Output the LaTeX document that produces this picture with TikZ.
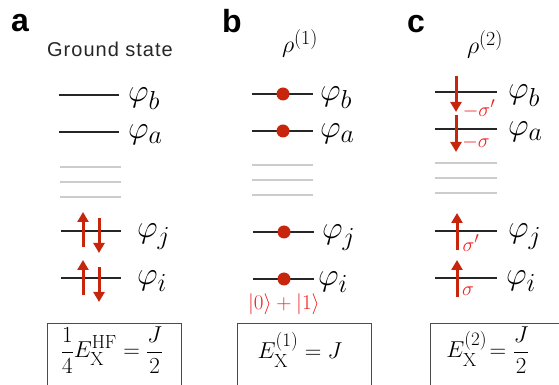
\RequirePackage{fix-cm}
\documentclass[tikz,border=0pt]{standalone}
\usepackage{amsmath}
\usepackage{fontspec}
\newfontfamily\helv{Liberation Sans}
\newfontfamily\helvw[LetterSpace=5]{Liberation Sans}
\usetikzlibrary{arrows.meta, positioning}
\definecolor{spinred}{RGB}{200,38,12}
\definecolor{lblred}{RGB}{238,32,32}
\DeclareMathSizes{32}{32}{26}{20}
\DeclareMathSizes{24}{24}{20}{16}
\DeclareMathSizes{23}{23}{19}{15}
\DeclareMathSizes{21}{21}{17}{13}
\DeclareMathSizes{20}{20}{16}{12}

\begin{document}
\begin{tikzpicture}[
    x=1pt, y=1pt,
    level/.style  = {line width=2pt, black!85},
    gap/.style    = {line width=2pt, black!20},
    spin/.style   = {line width=3pt, spinred,
                     -{Triangle[length=10pt, width=11pt]}},
    dot/.style    = {circle, fill=spinred, inner sep=0pt, minimum size=13pt},
    orb/.style    = {anchor=base west, inner sep=0pt,
                     font=\fontsize{32}{34}\selectfont},
    plabel/.style = {anchor=base, inner sep=0pt,
                     font=\helv\bfseries\fontsize{32}{34}\selectfont},
    title/.style  = {anchor=base, inner sep=0pt, text=black!85,
                     font=\helvw\fontsize{20}{22}\selectfont},
    dens/.style   = {anchor=base, inner sep=0pt,
                     font=\fontsize{24}{26}\selectfont},
    tag/.style    = {inner sep=0pt, text=lblred,
                     font=\fontsize{20}{22}\selectfont},
    eq/.style     = {inner sep=0pt, font=\fontsize{23}{25}\selectfont},
    ebox/.style   = {draw=black!70, line width=0.9pt},
]
\useasboundingbox (0,0) rectangle (559,385);

% panel a: ground state
\node[plabel] (la) at (20,353) {a};
\node[title]  (gs) at (110,328) {Ground state};

\coordinate (ab) at (89,290);
\coordinate (aa) at (89,253);
\coordinate (aj) at (91,154);
\coordinate (ai) at (91,107);
\draw[level] ([xshift=-30]ab) -- ([xshift=30]ab);
\draw[level] ([xshift=-30]aa) -- ([xshift=30]aa);
\foreach \y in {218,203,188}
  \draw[gap] (60,\y) -- (121,\y);
\draw[level] ([xshift=-30]aj) -- ([xshift=30]aj);
\draw[level] ([xshift=-30]ai) -- ([xshift=30]ai);

\draw[spin] ([shift={(-8,-16)}]aj) -- ([shift={(-8,19)}]aj);
\draw[spin] ([shift={(8,13)}]aj)   -- ([shift={(8,-22)}]aj);
\draw[spin] ([shift={(-8,-17)}]ai) -- ([shift={(-8,18)}]ai);
\draw[spin] ([shift={(8,11)}]ai)   -- ([shift={(8,-24)}]ai);

\node[orb] (abl) at (128,283) {$\varphi_b$};
\node[orb] (aal) at (128,246) {$\varphi_a$};
\node[orb] (ajl) at (137,147) {$\varphi_j$};
\node[orb] (ail) at (137,100) {$\varphi_i$};

\node[eq] (eqa) at (112,35)
  {$\displaystyle \frac{1}{4}E_{\mathrm{X}}^{\mathrm{HF}} = \frac{J}{2}$};
\draw[ebox] (47,62) rectangle (181,-20);

% panel b: first-order density
\node[plabel] (lb) at (232,352) {b};
\node[dens]   (rb) at (300,332) {$\rho^{(1)}$};

\coordinate (bb) at (283,291);
\coordinate (ba) at (283,254);
\coordinate (bj) at (284,153);
\coordinate (bi) at (284,106);
\draw[level] ([xshift=-31]bb) -- ([xshift=30]bb);
\draw[level] ([xshift=-31]ba) -- ([xshift=30]ba);
\foreach \y in {220,205,190}
  \draw[gap] (252,\y) -- (313,\y);
\draw[level] ([xshift=-31]bj) -- ([xshift=30]bj);
\draw[level] ([xshift=-31]bi) -- ([xshift=30]bi);

\node[dot] (db) at (bb) {};
\node[dot] (da) at (ba) {};
\node[dot] (dj) at (bj) {};
\node[dot] (di) at (bi) {};

\node[orb] (bbl) at (320,284) {$\varphi_b$};
\node[orb] (bal) at (320,247) {$\varphi_a$};
\node[orb] (bjl) at (322,146) {$\varphi_j$};
\node[orb] (bil) at (318,99)  {$\varphi_i$};
\node[tag, below=8pt of di, font=\fontsize{21}{23}\selectfont] (sup)
  {$|0\rangle+|1\rangle$};

\node[eq] (eqb) at (300,35) {$E_{\mathrm{X}}^{(1)} = J$};
\draw[ebox] (237,62) rectangle (371,-20);

% panel c: second-order density
\node[plabel] (lc) at (416,352) {c};
\node[dens]   (rc) at (485,331) {$\rho^{(2)}$};

\coordinate (cb) at (466,293);
\coordinate (ca) at (466,256);
\coordinate (cj) at (466,154);
\coordinate (ci) at (466,107);
\draw[level] ([xshift=-31]cb) -- ([xshift=31]cb);
\draw[level] ([xshift=-31]ca) -- ([xshift=31]ca);
\foreach \y in {222,207,192}
  \draw[gap] (435,\y) -- (497,\y);
\draw[level] ([xshift=-31]cj) -- ([xshift=31]cj);
\draw[level] ([xshift=-31]ci) -- ([xshift=31]ci);

\draw[spin] ([shift={(-10,16)}]cb)  -- ([shift={(-10,-20)}]cb);
\draw[spin] ([shift={(-10,14)}]ca)  -- ([shift={(-10,-23)}]ca);
\draw[spin] ([shift={(-9,-19)}]cj)  -- ([shift={(-9,18)}]cj);
\draw[spin] ([shift={(-9,-19)}]ci)  -- ([shift={(-9,18)}]ci);

\node[tag] (tb) at (479,276) {$-\sigma'$};
\node[tag] (ta) at (476,242) {$-\sigma$};
\node[tag] (tj) at (471,142) {$\sigma'$};
\node[tag] (ti) at (468,94)  {$\sigma$};

\node[orb] (cbl) at (508,286) {$\varphi_b$};
\node[orb] (cal) at (508,249) {$\varphi_a$};
\node[orb] (cjl) at (508,147) {$\varphi_j$};
\node[orb] (cil) at (506,100) {$\varphi_i$};

\node[eq] (eqc) at (488,35) {$E_{\mathrm{X}}^{(2)}\!= \dfrac{J}{2}$};
\draw[ebox] (430,62) rectangle (580,-20);

\end{tikzpicture}
\end{document}
